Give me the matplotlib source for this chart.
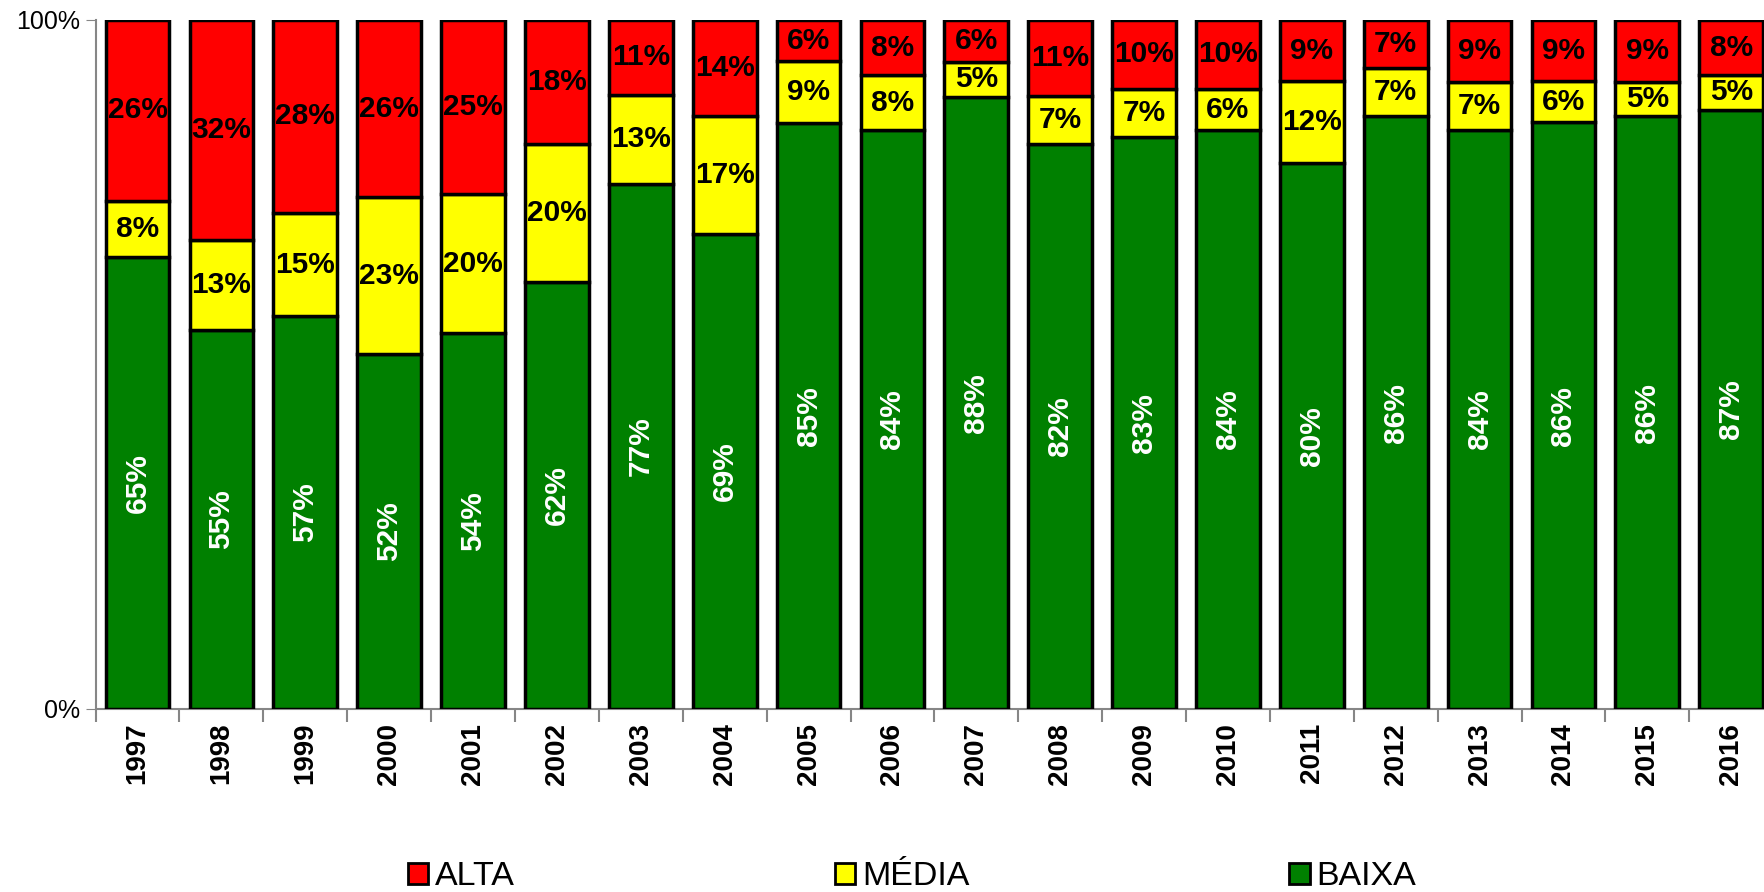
import numpy as np
import matplotlib
matplotlib.use("Agg")
import matplotlib.pyplot as plt
from matplotlib.patches import Patch

plt.rcParams['font.family'] = ['Liberation Sans', 'DejaVu Sans']

# data (percent per year)
years = ['1997', '1998', '1999', '2000', '2001', '2002', '2003', '2004', '2005', '2006',
         '2007', '2008', '2009', '2010', '2011', '2012', '2013', '2014', '2015', '2016']
baixa = [65, 55, 57, 52, 54, 62, 77, 69, 85, 84, 88, 82, 83, 84, 80, 86, 84, 86, 86, 87]
media = [8, 13, 15, 23, 20, 20, 13, 17, 9, 8, 5, 7, 7, 6, 12, 7, 7, 6, 5, 5]
alta = [26, 32, 28, 26, 25, 18, 11, 14, 6, 8, 6, 11, 10, 10, 9, 7, 9, 9, 9, 8]

# 100% stacked -> normalise each year
tot = np.array(baixa) + np.array(media) + np.array(alta)
b = np.array(baixa) / tot * 100
m = np.array(media) / tot * 100
a = np.array(alta) / tot * 100

fig = plt.figure(figsize=(17.64, 8.92), dpi=100)
ax = fig.add_axes([0.0542, 0.2052, 0.951, 0.7724])

x = np.arange(len(years))
w = 0.76
bb = ax.bar(x, b, w, color='#008000', edgecolor='black', linewidth=2.5, zorder=3)
bm = ax.bar(x, m, w, bottom=b, color='#FFFF00', edgecolor='black', linewidth=2.5, zorder=3)
ba = ax.bar(x, a, w, bottom=b + m, color='#FF0000', edgecolor='black', linewidth=2.5, zorder=3)

ax.bar_label(bb, labels=[f'{v}%' for v in baixa], label_type='center', rotation=90,
             color='white', fontsize=21.5, fontweight='bold')
ax.bar_label(bm, labels=[f'{v}%' for v in media], label_type='center',
             color='black', fontsize=21.5, fontweight='bold')
ax.bar_label(ba, labels=[f'{v}%' for v in alta], label_type='center',
             color='black', fontsize=21.5, fontweight='bold')

ax.set_xlim(-0.5, len(years) - 0.5)
ax.set_ylim(0, 100)
ax.set_yticks([0, 100])
ax.set_yticklabels(['0%', '100%'], fontsize=18)
ax.tick_params(axis='y', length=7, color='#868686', pad=4)

# category ticks sit between bars, labels centred under bars
ax.set_xticks(np.arange(-0.5, len(years), 1.0))
ax.set_xticklabels([])
ax.tick_params(axis='x', which='major', length=9, color='#868686', width=1.5)
ax.set_xticks(x, minor=True)
ax.set_xticklabels(years, minor=True, rotation=90, fontsize=20, fontweight='bold')
ax.tick_params(axis='x', which='minor', length=0, pad=10)

for s in ['top', 'right']:
    ax.spines[s].set_visible(False)
for s in ['left', 'bottom']:
    ax.spines[s].set_color('#868686')
    ax.spines[s].set_linewidth(1.5)

handles = [Patch(facecolor='#FF0000', edgecolor='black', linewidth=2, label='ALTA'),
           Patch(facecolor='#FFFF00', edgecolor='black', linewidth=2, label='MÉDIA'),
           Patch(facecolor='#008000', edgecolor='black', linewidth=2, label='BAIXA')]
fig.legend(handles=handles, loc='center', bbox_to_anchor=(0.517, 0.017), ncol=3,
           frameon=False, fontsize=24.5, handlelength=0.6, handleheight=0.6,
           handletextpad=0.2, columnspacing=9.4, borderaxespad=0)

fig.savefig('out.png', dpi=100)
